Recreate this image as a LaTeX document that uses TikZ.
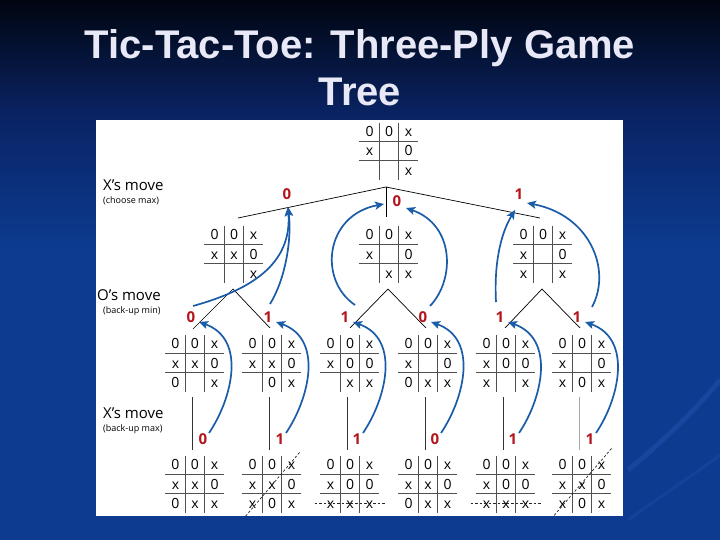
\documentclass[tikz,border=0pt]{standalone}
\usepackage{fontspec}
\setmainfont{Liberation Sans}
\newfontfamily\pfont{Open Sans}
\usetikzlibrary{calc,arrows.meta}
\definecolor{bgtop}{HTML}{000510}
\definecolor{bgmid}{HTML}{0A2466}
\definecolor{bgbot}{HTML}{0C3B8F}
\definecolor{swirlcol}{HTML}{2A5CB8}
\definecolor{titlecol}{HTML}{E8E8F6}
\definecolor{valred}{HTML}{B4151C}
\definecolor{arrowblue}{HTML}{1B5CA8}
\definecolor{gridcol}{HTML}{505050}
\pgfdeclareverticalshading{bgshade}{100bp}{color(0bp)=(bgbot); color(25bp)=(bgbot); color(52bp)=(bgbot); color(64bp)=(bgmid); color(75bp)=(bgtop); color(100bp)=(bgtop)}
\newcommand\tttboard[4]{%
  \draw[gridline] ({#2-9.75},{#3-28}) -- ({#2-9.75},{#3+29});
  \draw[gridline] ({#2+9.75},{#3-28}) -- ({#2+9.75},{#3+29});
  \draw[gridline] ({#2-30},{#3-9.75}) -- ({#2+29},{#3-9.75});
  \draw[gridline] ({#2-30},{#3+9.75}) -- ({#2+29},{#3+9.75});
  \foreach \v [count=\i from 0] in {#4} {%
    \pgfmathtruncatemacro\tcol{mod(\i,3)-1}%
    \pgfmathtruncatemacro\trow{int(\i/3)-1}%
    \node[cell] (#1-\i) at ({#2+19.5*\tcol},{#3+19.5*\trow}) {\v};
  }%
}
\begin{document}
\begin{tikzpicture}[x=1pt,y=-1pt,
  gridline/.style={draw=gridcol,line width=0.8pt},
  cell/.style={inner sep=0pt,text height=10pt,text depth=0pt,font=\pfont\fontsize{14}{14}\selectfont},
  val/.style={inner sep=0pt,text=valred,font=\pfont\bfseries\fontsize{15}{15}\selectfont},
  branch/.style={draw=black,line width=0.7pt},
  vline/.style={draw=black!80,line width=0.8pt},
  barrow/.style={draw=arrowblue,line width=1.7pt,-{Stealth[length=9pt,width=8pt,inset=2pt]}},
  winline/.style={draw=black!85,line width=0.7pt,dash pattern=on 2.5pt off 2pt},
  side/.style={anchor=base west,inner sep=0pt,font=\pfont\fontsize{15}{15}\selectfont},
  sidesmall/.style={anchor=base west,inner sep=0pt,font=\pfont\fontsize{9}{9}\selectfont},
  swirl/.style={draw=swirlcol,opacity=0.35,line width=5pt},
  titletext/.style={anchor=base,inner sep=0pt,text=titlecol,font=\bfseries\fontsize{40}{40}\selectfont}]
\useasboundingbox (0,0) rectangle (720,540);
\shade[shading=bgshade] (0,0) rectangle (720,540);
% faint background swirls
\draw[swirl] (628,470) .. controls (665,440) and (700,405) .. (720,380);
\draw[swirl,line width=3pt,opacity=0.25] (628,520) .. controls (670,490) and (700,470) .. (720,455);
% title
\node[titletext] (t1) at (360,59) {Tic-Tac-Toe: Three-Ply Game};
\node[titletext] (t2) at (360,106) {Tree};
% panel
\fill[white] (96,120) rectangle (623,516);
\begin{scope}
\clip (96,120) rectangle (623,516);
% side labels
\node[side] (sx1) at (103,191) {X’s move};
\node[sidesmall] (sx1s) at (103,204) {(choose max)};
\node[side] (so) at (97,300) {O’s move};
\node[sidesmall] (sos) at (103,313) {(back-up min)};
\node[side] (sx2) at (103,418) {X’s move};
\node[sidesmall] (sx2s) at (103,431) {(back-up max)};
% root
\tttboard{r}{389}{151}{0,0,x,x,{},0,{},{},x}
\coordinate (ra) at (386,187);
\coordinate (e1a) at (238,218);
\coordinate (e1b) at (386,217);
\coordinate (e1c) at (540,218);
\draw[branch] (e1a) -- (ra) -- (e1c);
\draw[branch] (ra) -- (e1b);
% level 1
\tttboard{la}{234}{254}{0,0,x,x,x,0,{},{},x}
\tttboard{lb}{389}{254}{0,0,x,x,{},0,{},x,x}
\tttboard{lc}{543}{254}{0,0,x,x,{},0,x,{},x}
\node[val] (v1a) at (287,194) {0};
\node[val] (v1b) at (397,201) {0};
\node[val] (v1c) at (519,194) {1};
% branches level1 -> level2
\coordinate (pa) at (233,289);
\coordinate (pb) at (388,289);
\coordinate (pc) at (542,289);
\coordinate (e2a) at (193,329);
\coordinate (e2b) at (270,328);
\coordinate (e2c) at (350,328);
\coordinate (e2d) at (426,328);
\coordinate (e2e) at (505,328);
\coordinate (e2f) at (580,328);
\draw[branch] (e2a) -- (pa) -- (e2b);
\draw[branch] (e2c) -- (pb) -- (e2d);
\draw[branch] (e2e) -- (pc) -- (e2f);
% level 2
\tttboard{ma}{195}{363}{0,0,x,x,x,0,0,{},x}
\tttboard{mb}{272}{363}{0,0,x,x,x,0,{},0,x}
\tttboard{mc}{350}{363}{0,0,x,x,0,0,{},x,x}
\tttboard{md}{428}{363}{0,0,x,x,{},0,0,x,x}
\tttboard{me}{506}{363}{0,0,x,x,0,0,x,{},x}
\tttboard{mf}{582}{363}{0,0,x,x,{},0,x,0,x}
\node[val] (v2a) at (191,317) {0};
\node[val] (v2b) at (268,317) {1};
\node[val] (v2c) at (345,317) {1};
\node[val] (v2d) at (423,317) {0};
\node[val] (v2e) at (500,317) {1};
\node[val] (v2f) at (577,317) {1};
% level 3 stems
\foreach \n/\cx in {a/195,b/272,c/350,d/428,e/506,f/582} {
  \coordinate (s\n t) at ({\cx-2.5},397);
  \coordinate (s\n b) at ({\cx-2.5},450);
}
\foreach \n in {a,b,c,d,e} { \draw[vline] (s\n t) -- (s\n b); }
\draw[vline,draw=black!35] (sft) -- (sfb);
\node[val] (v3a) at (203,439) {0};
\node[val] (v3b) at (280,439) {1};
\node[val] (v3c) at (357,439) {1};
\node[val] (v3d) at (435,439) {0};
\node[val] (v3e) at (513,439) {1};
\node[val] (v3f) at (590,439) {1};
% leaves
\tttboard{na}{195}{484}{0,0,x,x,x,0,0,x,x}
\tttboard{nb}{272}{484}{0,0,x,x,x,0,x,0,x}
\tttboard{nc}{350}{484}{0,0,x,x,0,0,x,x,x}
\tttboard{nd}{428}{484}{0,0,x,x,x,0,0,x,x}
\tttboard{ne}{506}{484}{0,0,x,x,0,0,x,x,x}
\tttboard{nf}{582}{484}{0,0,x,x,x,0,x,0,x}
\draw[winline] ($(nb-2)+(8,-12)$) -- ($(nb-6)+(-8,14)$);
\draw[winline] ($(nf-2)+(10,-16)$) -- ($(nf-6)+(-11,15)$);
\draw[winline] ($(nc-6)+(-16,0)$) -- ($(nc-8)+(16,0)$);
\draw[winline] ($(ne-6)+(-16,0)$) -- ($(ne-8)+(16,0)$);
% back-up arrows level3 -> level2
\foreach \n in {a,b,c,d,e,f} {
  \draw[barrow] ($(v3\n)+(6,-6)$) .. controls +(23,-34) and +(48,17) .. ($(v2\n)+(8,5)$);
}
% back-up arrows level2 -> level1
\draw[barrow] ($(v2a)+(2,-11)$) .. controls +(57,-16) and +(4,58) .. ($(v1a)+(1,13)$);
\draw[barrow] ($(v2b)+(2,-13)$) .. controls +(15,-24) and +(4,33) .. ($(v1a)+(1,13)$);
\draw[barrow] ($(v2c)+(10,-12)$) .. controls +(-37,-25) and +(-59,11) .. ($(v1b)+(-13,3)$);
\draw[barrow] ($(v2d)+(7,-11)$) .. controls +(25,-26) and +(49,17) .. ($(v1b)+(9,7)$);
\draw[barrow] ($(v2e)+(-4,-15)$) .. controls +(-2,-37) and +(-15,25) .. ($(v1c)+(-4,16)$);
\draw[barrow] ($(v2f)+(15,-10)$) .. controls +(20,-37) and +(63,12) .. ($(v1c)+(8,9)$);
\end{scope}
\end{tikzpicture}
\end{document}
